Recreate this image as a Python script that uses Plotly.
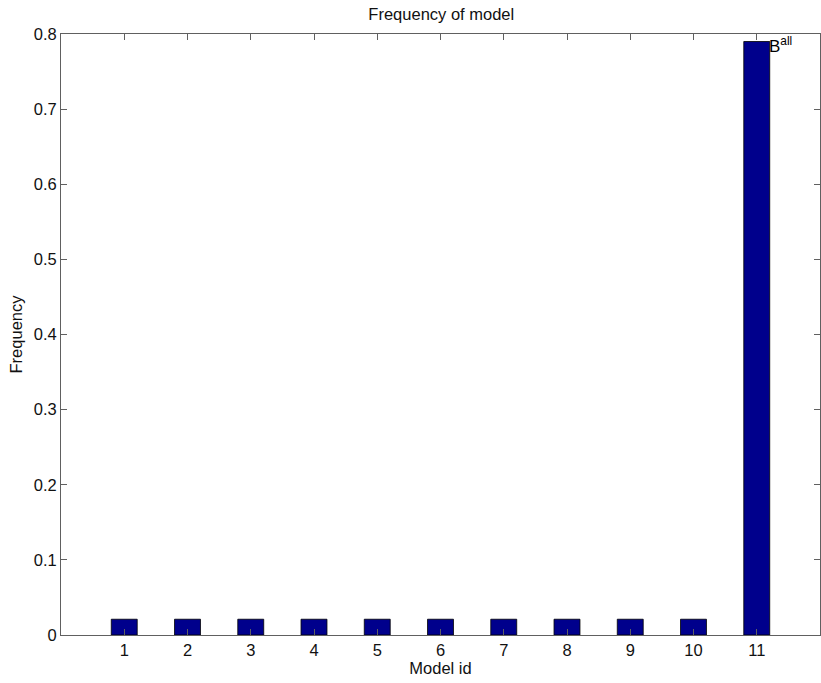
import plotly.graph_objects as go

model_ids = list(range(1, 12))
frequencies = [0.021, 0.021, 0.021, 0.021, 0.021, 0.021, 0.021, 0.021, 0.021, 0.021, 0.79]
y_ticks = [0, 0.1, 0.2, 0.3, 0.4, 0.5, 0.6, 0.7, 0.8]
y_tick_labels = ["0", "0.1", "0.2", "0.3", "0.4", "0.5", "0.6", "0.7", "0.8"]
annot_label = "B<sup>all</sup>"
annot_x = 11.16
annot_y = 0.786

font = "Liberation Sans, Arial, Helvetica, sans-serif"
axis_col = "#606060"
fs = 16.5

fig = go.Figure()
fig.add_trace(go.Bar(
    x=model_ids, y=frequencies, width=0.41,
    marker=dict(color="rgb(0,0,140)", line=dict(color="black", width=0.8)),
))
fig.add_annotation(x=annot_x, y=annot_y, text=annot_label, showarrow=False,
                   xanchor="left", yanchor="middle",
                   font=dict(family=font, size=17, color="black"))

fig.update_layout(
    width=821, height=683,
    margin=dict(l=61, r=1, t=34, b=48),
    paper_bgcolor="white", plot_bgcolor="white",
    showlegend=False,
    title=dict(text="Frequency of model", x=0.5375, xanchor="center", y=0.979, yanchor="middle",
               font=dict(family=font, size=fs, color="#111")),
    font=dict(family=font, size=fs, color="#111"),
)
fig.update_xaxes(
    range=[0, 12], tickvals=model_ids, ticktext=[str(i) for i in model_ids],
    showgrid=False, zeroline=False, showline=True, linecolor=axis_col, linewidth=1,
    mirror="ticks", ticks="inside", ticklen=6, tickcolor=axis_col,
    title=dict(text="Model id", standoff=0, font=dict(family=font, size=fs, color="#111")),
    tickfont=dict(family=font, size=fs, color="#111"),
)
fig.update_yaxes(
    range=[0, 0.8], tickvals=y_ticks, ticktext=y_tick_labels,
    showgrid=False, zeroline=False, showline=True, linecolor=axis_col, linewidth=1,
    mirror="ticks", ticks="inside", ticklen=6, tickcolor=axis_col,
    title=dict(text="Frequency", standoff=6, font=dict(family=font, size=fs, color="#111")),
    tickfont=dict(family=font, size=fs, color="#111"),
)

fig.write_html("out.html")
